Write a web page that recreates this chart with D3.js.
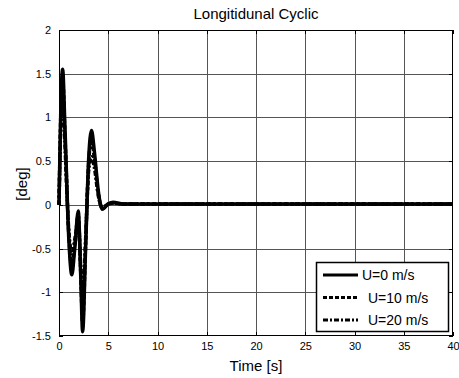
<!DOCTYPE html>
<meta charset="utf-8">
<style>
body { margin: 0; background: #fff; }
text { font-family: "Liberation Sans", Arial, sans-serif; fill: #000; }
.grid line { stroke: #555; stroke-width: 1; shape-rendering: crispEdges; }
.axis path { display: none; }
.axis line { stroke: #000; shape-rendering: crispEdges; }
.axis text { font-size: 11px; }
.series { fill: none; stroke: #000; stroke-width: 3.5; stroke-linejoin: round; }
</style>
<body>
<script src="https://cdn.jsdelivr.net/npm/d3@7"></script>
<script>

// time samples (s) and the three responses (deg)
var time   = [0, 0.2, 0.37, 0.6, 1.0, 1.3, 1.6, 1.96, 2.2, 2.4, 2.7, 3.0, 3.3, 3.6, 4.0, 4.4, 5.0, 5.5, 6.5, 40];
var u0     = [0, 1.2, 1.55, 0.9, -0.4, -0.8, -0.5, -0.07, -0.8, -1.45, -0.5, 0.5, 0.85, 0.6, 0.15, -0.05, 0.01, 0.03, 0.01, 0.01];
var u10    = [0, 1.1, 1.45, 0.8, -0.35, -0.7, -0.45, -0.12, -0.75, -1.35, -0.45, 0.45, 0.75, 0.52, 0.12, -0.04, 0.01, 0.02, 0.01, 0.01];
var u20    = [0, 1.0, 1.35, 0.7, -0.3, -0.55, -0.4, -0.2, -0.7, -1.2, -0.4, 0.38, 0.55, 0.42, 0.1, -0.03, 0.01, 0.02, 0.01, 0.01];
var seriesNames = ["U=0 m/s", "U=10 m/s", "U=20 m/s"];
var dashes = [null, "4,2", "5,2,2,2"];
var xTicks = [0, 5, 10, 15, 20, 25, 30, 35, 40];
var yTicks = [-1.5, -1, -0.5, 0, 0.5, 1, 1.5, 2];

var W = 459, H = 378;
var margin = {top: 30, right: 6, bottom: 42, left: 59},
    width = W - margin.left - margin.right,
    height = H - margin.top - margin.bottom;

var svg = d3.select("body").append("svg")
    .attr("width", W)
    .attr("height", H);

var g = svg.append("g")
    .attr("transform", "translate(" + margin.left + "," + margin.top + ")");

var x = d3.scaleLinear().domain([0, 40]).range([0, width]);
var y = d3.scaleLinear().domain([-1.5, 2]).range([height, 0]);

// grid
g.append("g").attr("class", "grid")
  .selectAll("line").data(xTicks.slice(1, -1)).enter().append("line")
    .attr("x1", function(d) { return Math.round(x(d)) + 0.5; })
    .attr("x2", function(d) { return Math.round(x(d)) + 0.5; })
    .attr("y1", 0).attr("y2", height);
g.append("g").attr("class", "grid")
  .selectAll("line").data(yTicks.slice(1, -1)).enter().append("line")
    .attr("y1", function(d) { return Math.round(y(d)) + 0.5; })
    .attr("y2", function(d) { return Math.round(y(d)) + 0.5; })
    .attr("x1", 0).attr("x2", width);

// axes, ticks inward (matlab style)
g.append("g").attr("class", "axis")
    .attr("transform", "translate(0," + height + ")")
    .call(d3.axisBottom(x).tickValues(xTicks).tickSizeInner(-4).tickSizeOuter(0).tickPadding(6).tickFormat(d3.format("d")));
g.append("g").attr("class", "axis")
    .call(d3.axisTop(x).tickValues(xTicks).tickSizeInner(-4).tickSizeOuter(0).tickFormat(""));
g.append("g").attr("class", "axis")
    .call(d3.axisLeft(y).tickValues(yTicks).tickSizeInner(-4).tickSizeOuter(0).tickPadding(8).tickFormat(function(d) { return d; }));
g.append("g").attr("class", "axis")
    .attr("transform", "translate(" + width + ",0)")
    .call(d3.axisRight(y).tickValues(yTicks).tickSizeInner(-4).tickSizeOuter(0).tickFormat(""));

// series
var line = d3.line()
    .x(function(d) { return x(d[0]); })
    .y(function(d) { return y(d[1]); })
    .curve(d3.curveMonotoneX);

[u0, u10, u20].forEach(function(vals, i) {
  g.append("path")
      .datum(time.map(function(t, j) { return [t, vals[j]]; }))
      .attr("class", "series")
      .attr("stroke-dasharray", dashes[i])
      .attr("d", line);
});

// frame
g.append("rect")
    .attr("x", 0.5).attr("y", 0.5)
    .attr("width", width - 1).attr("height", height - 1)
    .attr("fill", "none").attr("stroke", "#000")
    .attr("shape-rendering", "crispEdges");

// legend
var leg = g.append("g").attr("transform", "translate(" + (316 - margin.left) + "," + (262 - margin.top) + ")");
leg.append("rect")
    .attr("x", 0.5).attr("y", 0.5)
    .attr("width", 132).attr("height", 69)
    .attr("fill", "#fff").attr("stroke", "#000").attr("stroke-width", 1.5);
seriesNames.forEach(function(name, i) {
  var ly = 13 + i * 22.5;
  leg.append("line")
      .attr("x1", 7).attr("x2", 42).attr("y1", ly).attr("y2", ly)
      .attr("stroke", "#000").attr("stroke-width", 3)
      .attr("stroke-dasharray", dashes[i]);
  leg.append("text")
      .attr("x", i === 0 ? 46 : 52).attr("y", ly + 5)
      .style("font-size", "14px")
      .text(name);
});

// labels
svg.append("text")
    .attr("x", margin.left + width / 2).attr("y", 19)
    .attr("text-anchor", "middle").style("font-size", "15px")
    .text("Longitidunal Cyclic");
svg.append("text")
    .attr("x", margin.left + width / 2).attr("y", 371)
    .attr("text-anchor", "middle").style("font-size", "15px")
    .text("Time [s]");
svg.append("text")
    .attr("transform", "translate(27," + 184 + ") rotate(-90)")
    .attr("text-anchor", "middle").style("font-size", "15px")
    .text("[deg]");

</script>
